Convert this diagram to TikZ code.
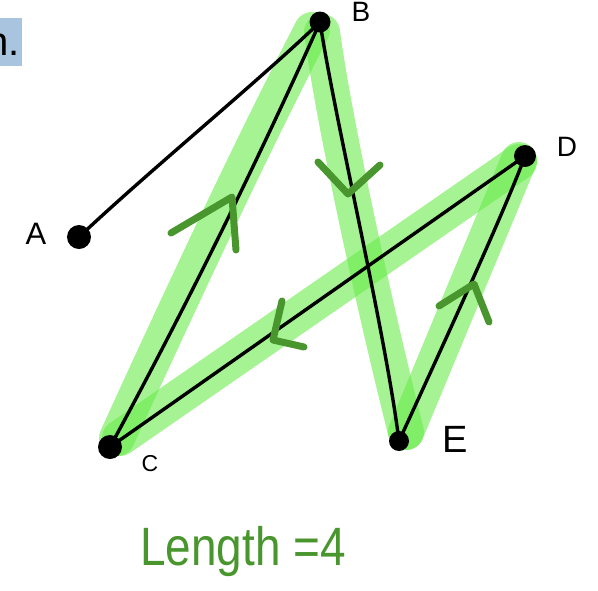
\documentclass[tikz,border=0pt]{standalone}
\usepackage{fontspec}
\setmainfont{Liberation Sans}
\definecolor{hlgreen}{RGB}{105,235,75}
\definecolor{penGreen}{RGB}{72,150,45}
\definecolor{boxblue}{RGB}{168,196,222}
\begin{document}
\begin{tikzpicture}[x=1pt,y=-1pt,
  hl/.style={line width=36pt, color=hlgreen, opacity=0.6, line cap=round, line join=round},
  edgeline/.style={line width=3.4pt, black, line cap=round},
  arrowstroke/.style={line width=7pt, penGreen, line cap=round, line join=round},
  dot/.style={circle, fill=black, inner sep=0pt, minimum size=24pt},
  lbl/.style={inner sep=0pt, black}]
\useasboundingbox (0,0) rectangle (598,590);
\fill[boxblue] (0,18) rectangle (22,66);
\node[anchor=base west, inner sep=0pt, font=\fontsize{40}{40}\selectfont] (title) at (-14,55) {n.};
% points
\coordinate (A) at (79,237);
\coordinate (B) at (320,22);
\coordinate (C) at (110,447);
\coordinate (D) at (525,156);
\coordinate (E) at (399,441);
% highlights
\draw[hl] (312,30) .. controls (250,150) and (180,300) .. (117,438);
\draw[hl] (322,32) .. controls (335,130) and (380,330) .. (406,432);
\draw[hl] (406,432) -- (519,160);
\draw[hl] (519,162) -- (120,438);
% black edges
\draw[edgeline] (A) .. controls (150,170) and (260,80) .. (B);
\draw[edgeline] (B) .. controls (265,145) and (190,300) .. (C);
\draw[edgeline] (B) .. controls (335,120) and (385,330) .. (E);
\draw[edgeline] (E) .. controls (450,330) and (505,210) .. (D);
\draw[edgeline] (D) -- (C);
% dots
\node[dot] (nA) at (A) {};
\node[dot, minimum size=21pt] (nB) at (B) {};
\node[dot] (nC) at (C) {};
\node[dot, minimum size=22pt] (nD) at (D) {};
\node[dot, minimum size=20pt] (nE) at (E) {};
% direction marks
\draw[arrowstroke] (171,233) -- (232,197) -- (236,250);
\draw[arrowstroke] (318,162) -- (348,194) -- (380,165);
\draw[arrowstroke] (282,301) -- (273,340) -- (304,347);
\draw[arrowstroke] (439,306) -- (474,284) -- (489,322);
% labels
\node[lbl, font=\fontsize{31}{31}\selectfont] (lA) at (36,234) {A};
\node[lbl, font=\fontsize{28}{28}\selectfont] (lB) at (361,12) {B};
\node[lbl, font=\fontsize{23}{23}\selectfont] (lC) at (150,464) {C};
\node[lbl, font=\fontsize{28}{28}\selectfont] (lD) at (567,147) {D};
\node[lbl, font=\fontsize{38}{38}\selectfont] (lE) at (455,439) {E};
\node[anchor=base west, inner sep=0pt, penGreen, xscale=0.85, font=\fontsize{54}{54}\selectfont] (len) at (140,565) {Length =4};
\end{tikzpicture}
\end{document}
